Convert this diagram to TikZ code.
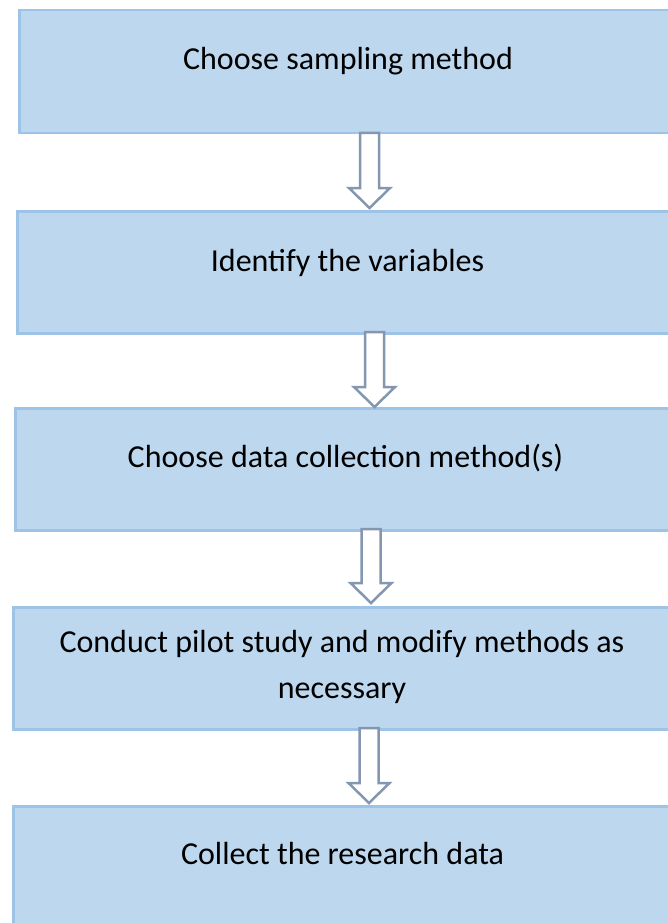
\documentclass[tikz,border=0pt]{standalone}
\usepackage{fontspec}
\setmainfont{Carlito}
\definecolor{boxfill}{HTML}{BDD7EE}
\definecolor{boxline}{HTML}{9DC3E6}
\definecolor{arrowline}{HTML}{8497B0}
\begin{document}
\begin{tikzpicture}[x=1pt,y=-1pt,
  stepbox/.style={draw=boxline,fill=boxfill,line width=2.5pt,anchor=north west,inner sep=0pt},
  label/.style={anchor=base,inner sep=0pt,font=\fontsize{32}{38}\selectfont},
  hollow/.style={draw=arrowline,fill=white,line width=2.5pt,line join=miter}]
\useasboundingbox (0,0) rectangle (668,923);
\clip (0,0) rectangle (668,923);
% boxes
\node[stepbox,minimum width=670pt,minimum height=123pt] (b1) at (18,9) {};
\node[stepbox,minimum width=672pt,minimum height=122pt] (b2) at (16,210) {};
\node[stepbox,minimum width=674pt,minimum height=122pt] (b3) at (14,407) {};
\node[stepbox,minimum width=676pt,minimum height=122pt] (b4) at (12,606) {};
\node[stepbox,minimum width=676pt,minimum height=140pt] (b5) at (12,805) {};
% texts
\node[label] (t1) at (348,70) {Choose sampling method};
\node[label] (t2) at (347.5,271) {Identify the variables};
\node[label] (t3) at (345.5,467) {Choose data collection method(s)};
\node[label] (t4a) at (342,652) {Conduct pilot study and modify methods as};
\node[label] (t4b) at (342,698) {necessary};
\node[label] (t5) at (342.5,864) {Collect the research data};
% arrows: hollow block arrows from the bottom of one box to the top of the next
\newcommand{\hollowarrow}[3]{%
  \draw[hollow] (#1-9.5,#2) -- (#1+9.5,#2) -- (#1+9.5,#3-20) -- (#1+20.5,#3-20)
    -- (#1,#3) -- (#1-20.5,#3-20) -- (#1-9.5,#3-20) -- cycle;}
\hollowarrow{369.5}{133}{208}
\hollowarrow{374.5}{332}{407}
\hollowarrow{371}{529}{603}
\hollowarrow{369}{728}{803}
\end{tikzpicture}
\end{document}
